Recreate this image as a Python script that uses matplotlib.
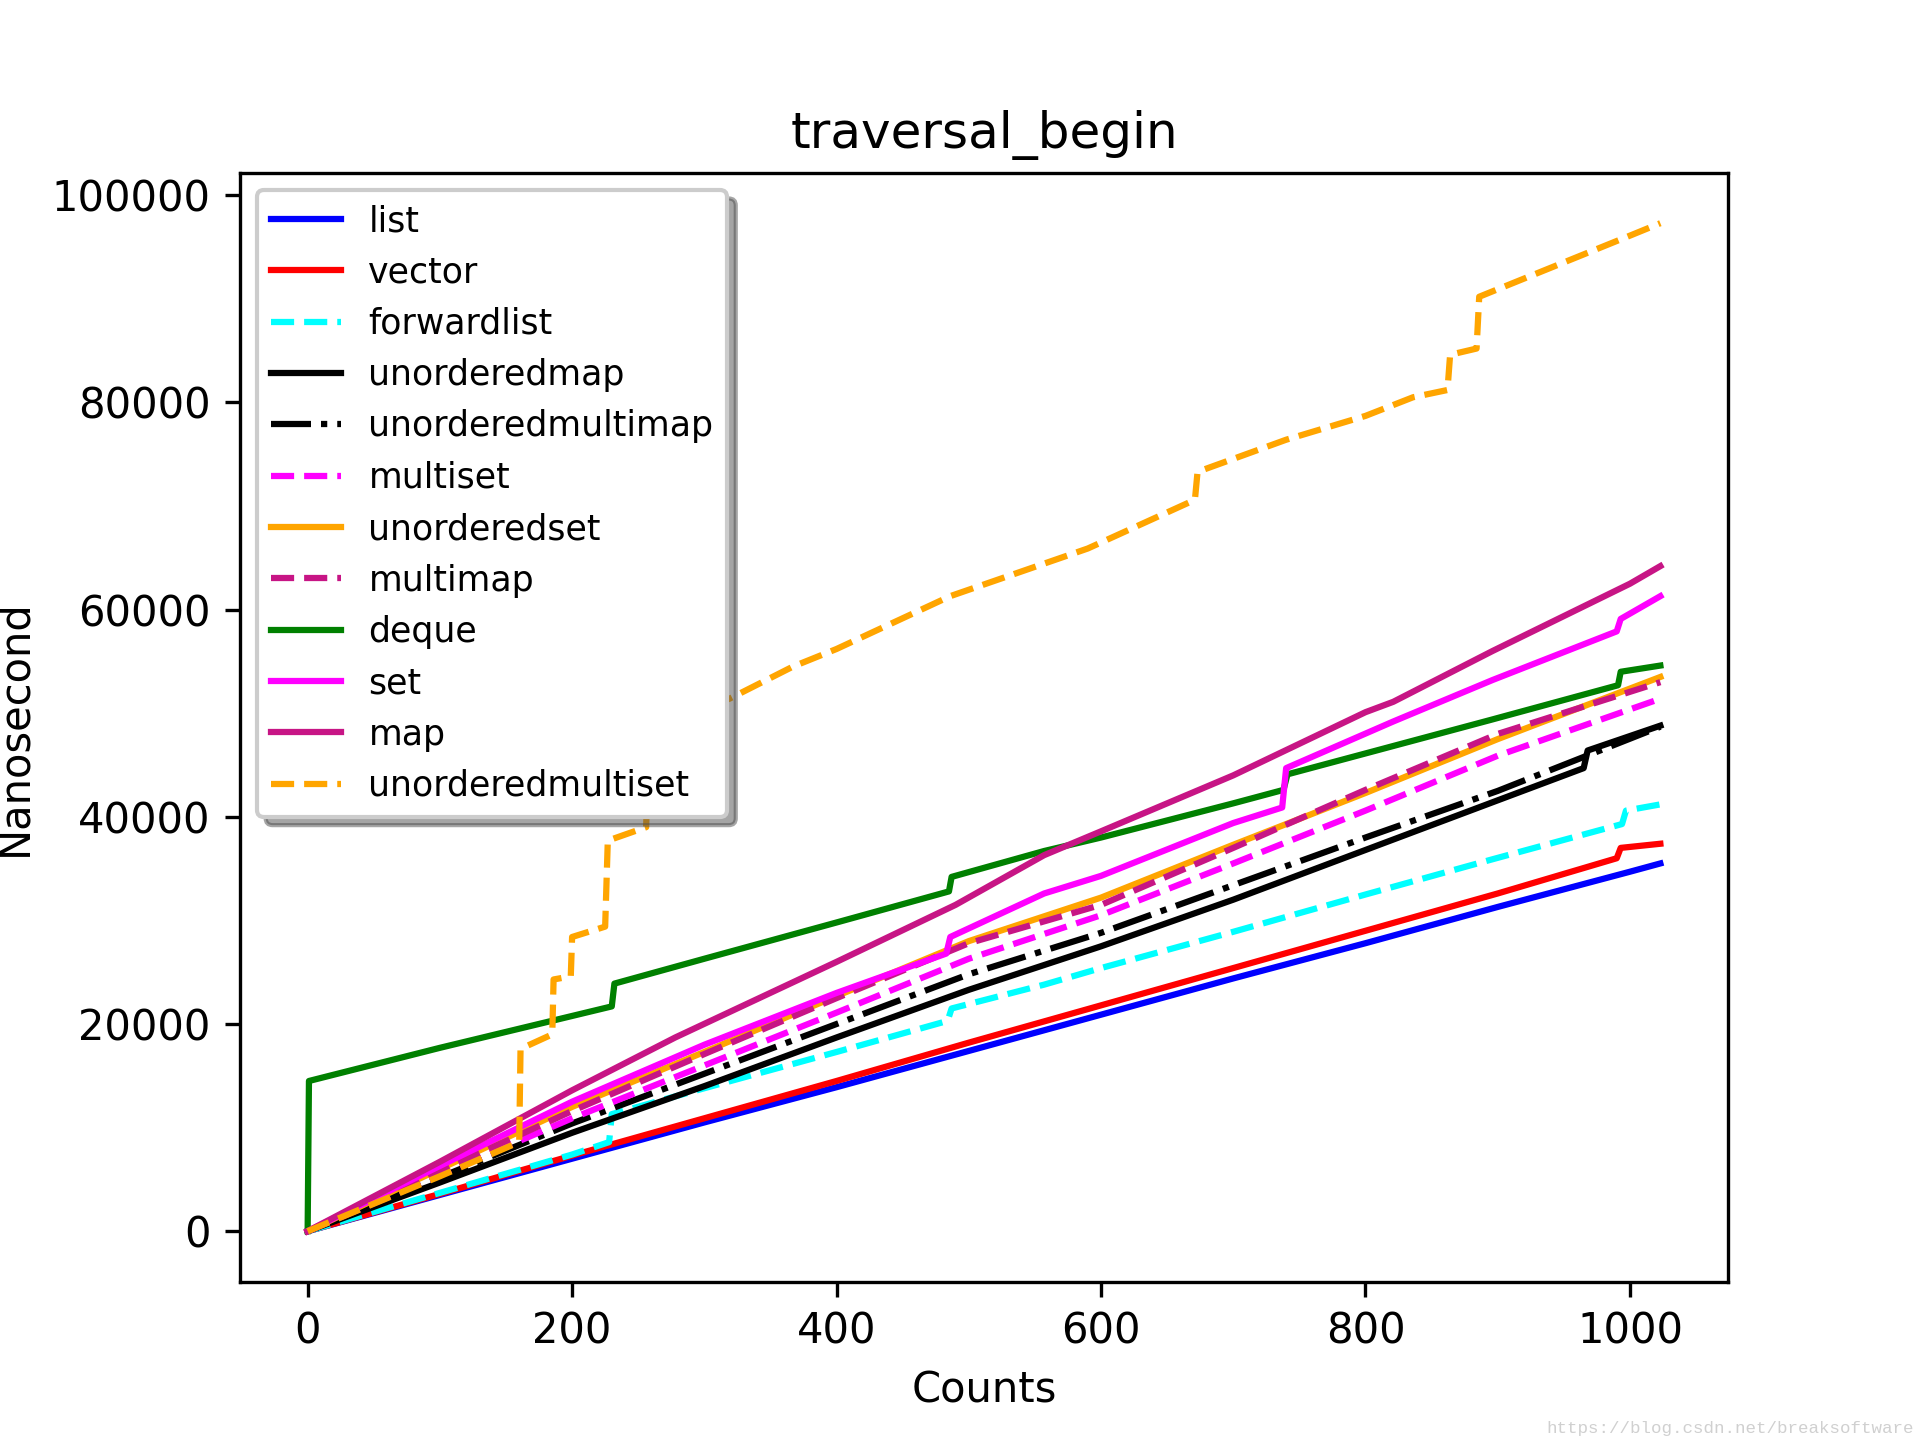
import matplotlib
matplotlib.use('Agg')
import matplotlib.pyplot as plt

# values (Counts -> Nanosecond)
list_x = [0, 100, 200, 300, 400, 500, 600, 700, 800, 900, 1000, 1023]
list_y = [0, 3500, 7000, 10500, 13900, 17400, 20900, 24400, 27800, 31300, 34700, 35500]

vector_x = [0, 100, 200, 300, 400, 500, 600, 700, 800, 900, 990, 993, 1023]
vector_y = [0, 3600, 7300, 10900, 14500, 18200, 21800, 25400, 29000, 32600, 36000, 37000, 37400]

forwardlist_x = [0, 100, 200, 228, 230, 300, 400, 484, 487, 557, 600, 700, 800, 896, 994, 997, 1023]
forwardlist_y = [0, 3700, 7400, 8600, 11300, 13800, 17300, 20300, 21500, 23800, 25400, 28900, 32500,
                 35900, 39300, 40600, 41200]

umap_x = [0, 100, 200, 300, 400, 500, 600, 700, 800, 896, 965, 968, 1023]
umap_y = [0, 4700, 9500, 14000, 18700, 23300, 27500, 32000, 36800, 41400, 44700, 46400, 48800]

grid_x = [0, 100, 200, 300, 400, 500, 600, 700, 800, 900, 1023]
umultimap_y = [0, 5200, 10400, 15200, 20000, 24800, 28800, 33400, 38000, 42500, 48700]
multiset_y = [0, 5400, 10900, 16000, 21100, 26300, 30500, 35500, 40600, 45900, 51400]
uset_y = [0, 6000, 12000, 17300, 22700, 28000, 32200, 37300, 42300, 47500, 53500]
multimap_y = [0, 5800, 11600, 17100, 22500, 27800, 31500, 37000, 42600, 48000, 53000]

deque_x = [0, 1, 100, 230, 232, 300, 400, 485, 487, 557, 600, 700, 738, 741, 896, 991, 993, 1023]
deque_y = [0, 14500, 17700, 21700, 23900, 26300, 29800, 32800, 34200, 36700, 38000, 41300, 42600,
           44100, 49400, 52700, 54000, 54600]

set_x = [0, 100, 200, 300, 400, 483, 486, 557, 600, 700, 737, 740, 821, 896, 990, 993, 1023]
set_y = [0, 6300, 12500, 18000, 23000, 26800, 28400, 32600, 34300, 39400, 40900, 44700, 49200,
         53200, 57900, 59100, 61300]

map_x = [0, 100, 200, 278, 400, 490, 557, 600, 700, 800, 821, 896, 1000, 1023]
map_y = [0, 6700, 13600, 18700, 26000, 31500, 36300, 38600, 44000, 50100, 51100, 56000, 62500, 64200]

umultiset_x = [0, 100, 160, 161, 185, 186, 199, 200, 225, 227, 256, 258, 319, 367, 400, 486, 590,
               671, 673, 740, 800, 836, 862, 864, 884, 886, 1000, 1023]
umultiset_y = [0, 5300, 8600, 17600, 19000, 24300, 24600, 28400, 29400, 37700, 39000, 48500, 51400,
               54500, 56200, 61300, 65900, 70600, 73300, 76400, 78700, 80500, 81200, 84600, 85200,
               90200, 96100, 97300]

fig, ax = plt.subplots(figsize=(6.4, 4.8), dpi=300)

ax.plot(list_x, list_y, color='blue', linestyle='-', label='list')
ax.plot(vector_x, vector_y, color='red', linestyle='-', label='vector')
ax.plot(forwardlist_x, forwardlist_y, color='cyan', linestyle='--', label='forwardlist')
ax.plot(umap_x, umap_y, color='black', linestyle='-', label='unorderedmap')
ax.plot(grid_x, umultimap_y, color='black', linestyle='-.', label='unorderedmultimap')
ax.plot(grid_x, multiset_y, color='magenta', linestyle='--', label='multiset')
ax.plot(grid_x, uset_y, color='orange', linestyle='-', label='unorderedset')
ax.plot(grid_x, multimap_y, color='mediumvioletred', linestyle='--', label='multimap')
ax.plot(deque_x, deque_y, color='green', linestyle='-', label='deque')
ax.plot(set_x, set_y, color='magenta', linestyle='-', label='set')
ax.plot(map_x, map_y, color='mediumvioletred', linestyle='-', label='map')
ax.plot(umultiset_x, umultiset_y, color='orange', linestyle='--', label='unorderedmultiset')

ax.set_title('traversal_begin')
ax.set_xlabel('Counts')
ax.set_ylabel('Nanosecond')
ax.legend(loc='upper left', shadow=True, fontsize='small')

fig.text(0.997, 0.003, 'https://blog.csdn.net/breaksoftware', ha='right', va='bottom',
         fontsize=4.2, color='#d0d0d0', family='Liberation Mono')

fig.savefig('out.png', dpi=300)
